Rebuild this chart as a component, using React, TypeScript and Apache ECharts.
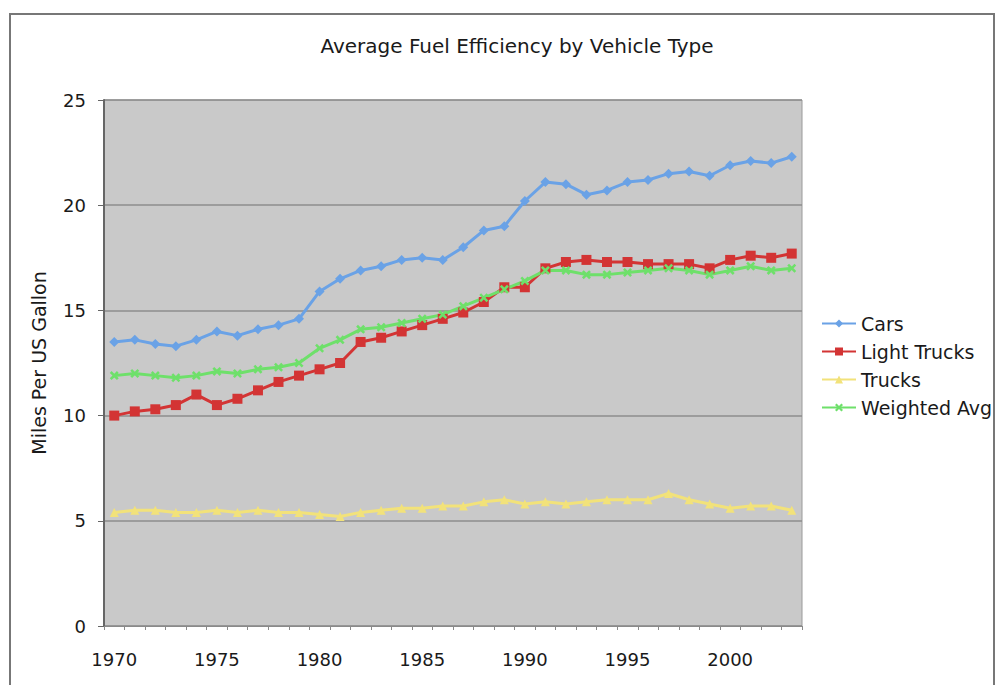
import React, { useEffect, useRef } from "react";
import * as echarts from "echarts";

const years = ["1970","1971","1972","1973","1974","1975","1976","1977","1978","1979","1980","1981","1982","1983","1984","1985","1986","1987","1988","1989","1990","1991","1992","1993","1994","1995","1996","1997","1998","1999","2000","2001","2002","2003"];
const cars = [13.5,13.6,13.4,13.3,13.6,14.0,13.8,14.1,14.3,14.6,15.9,16.5,16.9,17.1,17.4,17.5,17.4,18.0,18.8,19.0,20.2,21.1,21.0,20.5,20.7,21.1,21.2,21.5,21.6,21.4,21.9,22.1,22.0,22.3];
const lightTrucks = [10.0,10.2,10.3,10.5,11.0,10.5,10.8,11.2,11.6,11.9,12.2,12.5,13.5,13.7,14.0,14.3,14.6,14.9,15.4,16.1,16.1,17.0,17.3,17.4,17.3,17.3,17.2,17.2,17.2,17.0,17.4,17.6,17.5,17.7];
const trucks = [5.4,5.5,5.5,5.4,5.4,5.5,5.4,5.5,5.4,5.4,5.3,5.2,5.4,5.5,5.6,5.6,5.7,5.7,5.9,6.0,5.8,5.9,5.8,5.9,6.0,6.0,6.0,6.3,6.0,5.8,5.6,5.7,5.7,5.5];
const weightedAvg = [11.9,12.0,11.9,11.8,11.9,12.1,12.0,12.2,12.3,12.5,13.2,13.6,14.1,14.2,14.4,14.6,14.8,15.2,15.6,16.0,16.4,16.9,16.9,16.7,16.7,16.8,16.9,17.0,16.9,16.7,16.9,17.1,16.9,17.0];
const seriesNames = ["Cars", "Light Trucks", "Trucks", "Weighted Avg"];
const yTicks = { min: 0, max: 25, interval: 5 };

const FONT = "DejaVu Sans";
const XMARK = "path://M2,0 L5,3 L8,0 L10,2 L7,5 L10,8 L8,10 L5,7 L2,10 L0,8 L3,5 L0,2 Z";

export default function App() {
  const ref = useRef<HTMLDivElement>(null);
  useEffect(() => {
    if (!ref.current) return;
    const chart = echarts.init(ref.current, undefined, { renderer: "svg" });
    const mk = (name: string, data: number[], color: string, symbol: string, size: number) => ({
      name,
      type: "line",
      data,
      symbol,
      symbolSize: size,
      showSymbol: true,
      lineStyle: { color, width: 3 },
      itemStyle: { color, borderColor: color, borderWidth: 0 },
      emphasis: { disabled: true },
    });
    chart.setOption({
      animation: false,
      backgroundColor: "#ffffff",
      textStyle: { fontFamily: FONT },
      graphic: [
        {
          type: "rect",
          shape: { x: 10, y: 14, width: 984, height: 690 },
          style: { fill: "none", stroke: "#777", lineWidth: 2 },
          silent: true,
          z: -1,
        },
      ],
      title: {
        text: "Average Fuel Efficiency by Vehicle Type",
        left: 512,
        textAlign: "center",
        top: 31,
        textStyle: { fontFamily: FONT, fontSize: 20, fontWeight: "normal", color: "#1a1a1a" },
      },
      legend: {
        orient: "vertical",
        left: 816,
        top: 309,
        itemGap: 9,
        itemWidth: 34,
        itemHeight: 10,
        data: seriesNames,
        textStyle: { fontFamily: FONT, fontSize: 19, color: "#1a1a1a" },
      },
      grid: {
        left: 104,
        top: 100,
        width: 698,
        height: 526,
        show: true,
        backgroundColor: "#c9c9c9",
        borderColor: "#9a9a9a",
        borderWidth: 1,
      },
      xAxis: {
        type: "category",
        data: years,
        boundaryGap: true,
        axisLine: { show: true, lineStyle: { color: "#8a8a8a", width: 1 } },
        axisTick: { show: true, interval: 0, length: 4, lineStyle: { color: "#8a8a8a" } },
        axisLabel: { interval: 4, fontFamily: FONT, fontSize: 18, color: "#1a1a1a", margin: 24 },
        splitLine: { show: false },
      },
      yAxis: {
        type: "value",
        min: yTicks.min,
        max: yTicks.max,
        interval: yTicks.interval,
        name: "Miles Per US Gallon",
        nameLocation: "middle",
        nameGap: 56,
        nameTextStyle: { fontFamily: FONT, fontSize: 19, color: "#1a1a1a" },
        axisLine: { show: true, lineStyle: { color: "#666", width: 2 } },
        axisTick: { show: true, length: 6, lineStyle: { color: "#666" } },
        axisLabel: { fontFamily: FONT, fontSize: 18, color: "#1a1a1a", margin: 18 },
        splitLine: { show: true, lineStyle: { color: "#8c8c8c", width: 1.5 } },
      },
      series: [
        mk("Cars", cars, "#6aa2e6", "diamond", 10),
        mk("Light Trucks", lightTrucks, "#d33434", "rect", 10),
        mk("Trucks", trucks, "#f2e27a", "triangle", 9),
        mk("Weighted Avg", weightedAvg, "#6ee06a", XMARK, 9),
      ],
    });
    return () => chart.dispose();
  }, []);
  return (
    <div
      ref={ref}
      style={{ position: "fixed", left: 0, top: 0, width: 1000, height: 685 }}
    />
  );
}
